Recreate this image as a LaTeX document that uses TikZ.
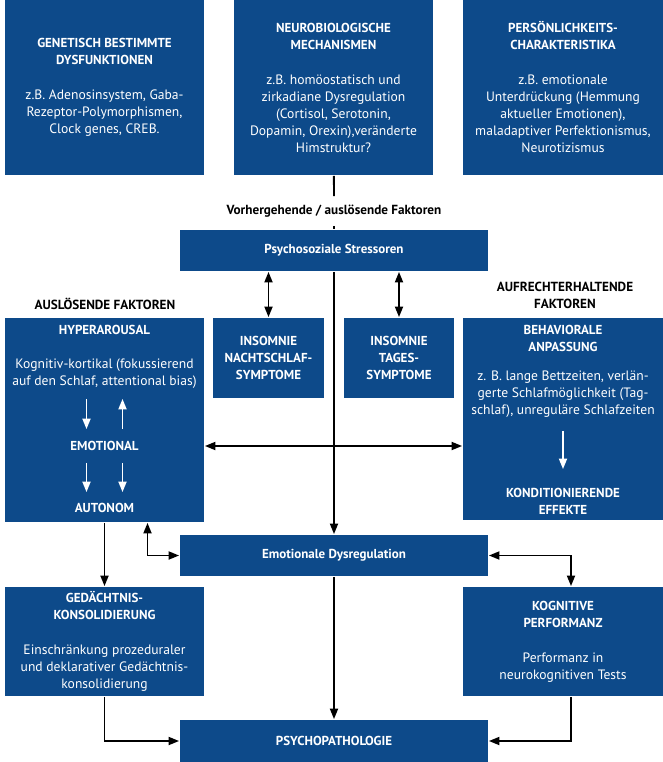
\documentclass[tikz,border=0pt]{standalone}
\usepackage{fontspec}
\setmainfont{PT Sans}
\usepackage{xcolor}
\usepackage{tikz}
\usetikzlibrary{arrows.meta, positioning}
\definecolor{boxblue}{RGB}{13,74,138}
\newcommand{\boxhead}[1]{{\fontsize{13}{17}\selectfont\bfseries #1}}

\begin{document}
\begin{tikzpicture}[x=1pt,y=-1pt,>={Triangle[length=10.5pt,width=8pt]},line width=1.8pt,
    every node/.style={font=\fontsize{13.6}{17}\selectfont,align=center,inner sep=0pt},
    box/.style={fill=boxblue,text=white},
    inbox/.style={text=white},
    lbl/.style={font=\fontsize{13.2}{17}\selectfont\bfseries}]
    \useasboundingbox (0,0) rectangle (663,762);

    \node[box,minimum width=199,minimum height=175] (gen) at (104.5,87.5) {\boxhead{GENETISCH BESTIMMTE}\\\boxhead{DYSFUNKTIONEN}\\[18pt]z.B. Adenosinsystem, Gaba-\\Rezeptor-Polymorphismen,\\Clock genes, CREB.};
    \node[box,minimum width=199,minimum height=175] (neuro) at (333.5,87.5) {\boxhead{NEUROBIOLOGISCHE}\\\boxhead{MECHANISMEN}\\[18pt]z.B. homöostatisch und\\zirkadiane Dysregulation\\(Cortisol, Serotonin,\\Dopamin, Orexin),veränderte\\Himstruktur?};
    \node[box,minimum width=200,minimum height=175] (pers) at (563,87.5) {\boxhead{PERSÖNLICHKEITS-}\\\boxhead{CHARAKTERISTIKA}\\[18pt]z.B. emotionale\\Unterdrückung (Hemmung\\aktueller Emotionen),\\maladaptiver Perfektionismus,\\Neurotizismus};

    \node[lbl,minimum height=28] (vorh) at (334,211) {Vorhergehende / auslösende Faktoren};
    \node[box,minimum width=308,minimum height=41] (psy) at (334,250.5) {\boxhead{Psychosoziale Stressoren}};

    \node[lbl] (ausl) at (105,304) {AUSLÖSENDE FAKTOREN};
    \node[lbl] (aufr) at (565,295) {AUFRECHTERHALTENDE\\FAKTOREN};

    \node[box,minimum width=111,minimum height=80] (nacht) at (268.5,358) {\boxhead{INSOMNIE}\\\boxhead{NACHTSCHLAF-}\\\boxhead{SYMPTOME}};
    \node[box,minimum width=110,minimum height=80] (tages) at (399,358) {\boxhead{INSOMNIE}\\\boxhead{TAGES-}\\\boxhead{SYMPTOME}};

    \node[box,minimum width=199,minimum height=204] (hyp) at (104.5,420) {};
    \node[inbox] (hyptitle) at (104.5,330) {\boxhead{HYPERAROUSAL}};
    \node[inbox,minimum height=48] (kog) at (104.5,374) {Kognitiv-kortikal (fokussierend\\auf den Schlaf, attentional bias)};
    \node[inbox,minimum height=32] (emo) at (104.5,446) {\boxhead{EMOTIONAL}};
    \node[inbox,minimum height=30] (auto) at (104.5,508) {\boxhead{AUTONOM}};

    \node[box,minimum width=200,minimum height=202] (beh) at (563,419) {};
    \node[inbox] (behtitle) at (563,338.5) {\boxhead{BEHAVIORALE}\\\boxhead{ANPASSUNG}};
    \node[inbox,minimum height=72] (behtext) at (563,394) {z. B. lange Bettzeiten, verlän-\\gerte Schlafmöglichkeit (Tag-\\schlaf), unreguläre Schlafzeiten};
    \node[inbox,minimum height=63] (kond) at (563,501.5) {\boxhead{KONDITIONIERENDE}\\\boxhead{EFFEKTE}};

    \node[box,minimum width=308,minimum height=41] (emodys) at (334,555.5) {\boxhead{Emotionale Dysregulation}};

    \node[box,minimum width=199,minimum height=109] (ged) at (104.5,641.5) {\boxhead{GEDÄCHTNIS-}\\\boxhead{KONSOLIDIERUNG}\\[18pt]Einschränkung prozeduraler\\und deklarativer Gedächtnis-\\konsolidierung};
    \node[box,minimum width=200,minimum height=109] (kogn) at (563,641.5) {\boxhead{KOGNITIVE}\\\boxhead{PERFORMANZ}\\[18pt]Performanz in\\neurokognitiven Tests};

    \node[box,minimum width=308,minimum height=42] (patho) at (334,741) {\boxhead{PSYCHOPATHOLOGIE}};

    \draw[white,->] ([xshift=-18]kog.south) -- ([xshift=-18]emo.north);
    \draw[white,<-] ([xshift=18]kog.south) -- ([xshift=18]emo.north);
    \draw[white,->] ([xshift=-18]emo.south) -- ([xshift=-18]auto.north);
    \draw[white,->] ([xshift=18]emo.south) -- ([xshift=18]auto.north);
    \draw[white,->] (behtext.south) -- (kond.north);

    \path (neuro) edge (vorh)
          (vorh.south) edge (psy.north)
          (nacht.north) edge[<->] (nacht.north |- psy.south)
          (tages.north) edge[<->] (tages.north |- psy.south)
          (psy) edge[->] (emodys)
          (emo -| hyp.east) edge[<->] (emo -| beh.west)
          (hyp) edge[->] (ged)
          (emodys) edge[->] (patho);
    \draw[<->] ([xshift=43]hyp.south) |- (emodys.west);
    \draw[<->] (emodys.east) -| ([xshift=8]kogn.north);
    \draw[->] (ged.south) |- (patho.west);
    \draw[->] ([xshift=8]kogn.south) |- (patho.east);
\end{tikzpicture}
\end{document}
